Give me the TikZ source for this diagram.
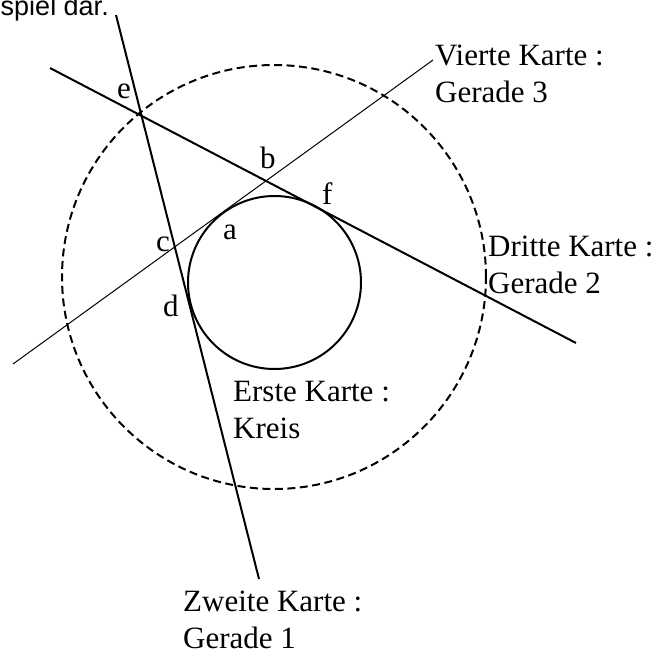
\documentclass[tikz,border=0pt]{standalone}
\usepackage{fontspec}
\setmainfont{Liberation Serif}
\newfontfamily\fliesstext{Liberation Sans}
\usetikzlibrary{positioning}
\tikzset{
    kartelabel/.style={anchor=base west, inner sep=0pt, align=left,
        font=\fontsize{31}{37}\selectfont},
    punktlabel/.style={anchor=base west, inner sep=0pt,
        font=\fontsize{31}{37}\selectfont},
    geradeline/.style={line width=2pt},
    duennline/.style={line width=1pt},
    kreisline/.style={line width=2pt},
    randline/.style={line width=2pt, dash pattern=on 8pt off 4.5pt}
}

\begin{document}
\begin{tikzpicture}[x=1pt, y=-1pt]
\useasboundingbox (0,0) rectangle (670,651);
\node[anchor=base east, inner sep=0pt, font=\fliesstext\fontsize{27}{31}\selectfont]
    (satz) at (109,15) {spiel dar.};
% Kreise
\coordinate (kreismitte) at (274.5,282.5);
\coordinate (randmitte) at (274,277);
\draw[kreisline] (kreismitte) circle [radius=86.5pt];
\draw[randline] (randmitte) circle [radius=212pt];
% Geraden
\coordinate (g1a) at (116,15);
\coordinate (g1b) at (259,579);
\coordinate (g2a) at (50,68);
\coordinate (g2b) at (576,343);
\coordinate (g3a) at (13,364);
\coordinate (g3b) at (433,60);
\draw[geradeline] (g1a) -- (g1b);
\draw[geradeline] (g2a) -- (g2b);
\draw[duennline] (g3a) -- (g3b);
% Punkte
\node[punktlabel] (pe) at (117,98) {e};
\node[punktlabel] (pb) at (260,168) {b};
\node[punktlabel] (pf) at (322,204) {f};
\node[punktlabel] (pa) at (223,239) {a};
\node[punktlabel] (pc) at (156,251) {c};
\node[punktlabel] (pd) at (163,316) {d};
% Karten (Anker an der zweiten Zeile)
\node[kartelabel] (vierte) at (435,102) {Vierte Karte :\\Gerade 3};
\node[kartelabel] (dritte) at (488,293) {Dritte Karte :\\Gerade 2};
\node[kartelabel] (erste) at (233,438) {Erste Karte :\\Kreis};
\node[kartelabel] (zweite) at (183,648) {Zweite Karte :\\Gerade 1};
\end{tikzpicture}
\end{document}
